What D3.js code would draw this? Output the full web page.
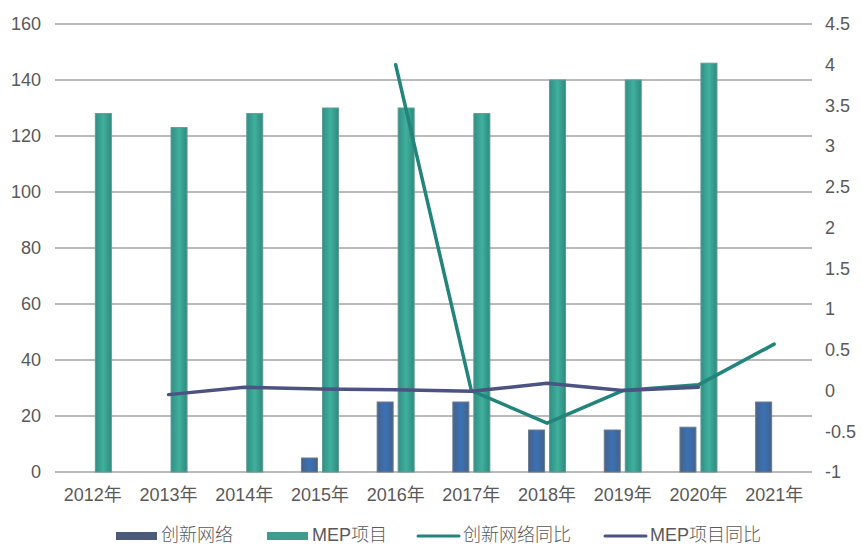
<!DOCTYPE html>
<html>
<head>
<meta charset="utf-8">
<script src="https://cdn.jsdelivr.net/npm/d3@7"></script>
<style>
  body { margin: 0; background: #fff; }
  text { font-family: "Liberation Sans", "Noto Sans CJK SC", sans-serif; fill: #595959; }
</style>
</head>
<body>
<svg id="chart" width="862" height="546"></svg>
<script>
var years = ["2012年", "2013年", "2014年", "2015年", "2016年", "2017年", "2018年", "2019年", "2020年", "2021年"];
var networkValues = [null, null, null, 5, 25, 25, 15, 15, 16, 25];
var mepValues = [128, 123, 128, 130, 130, 128, 140, 140, 146, null];
var networkGrowth = [null, null, null, null, 4, 0, -0.4, 0, 0.07, 0.57];
var mepGrowth = [null, -0.05, 0.04, 0.02, 0.01, -0.01, 0.09, 0, 0.04, null];
var leftTicks = [0, 20, 40, 60, 80, 100, 120, 140, 160];
var rightTicks = [-1, -0.5, 0, 0.5, 1, 1.5, 2, 2.5, 3, 3.5, 4, 4.5];

var svg, x, yLeft, yRight, plotLeft, plotRight, plotTop, plotBottom, barW, gap, center;
svg = d3.select("#chart");
plotLeft = 55; plotRight = 812; plotTop = 24; plotBottom = 472;
barW = 16; gap = 5;

x = d3.scaleBand().domain(years).range([plotLeft, plotRight]);
yLeft = d3.scaleLinear().domain([0, 160]).range([plotBottom, plotTop]);
yRight = d3.scaleLinear().domain([-1, 4.5]).range([plotBottom, plotTop]);
center = function(i) { return x(years[i]) + x.bandwidth() / 2; };

var defs = svg.append("defs");
var gBlue = defs.append("linearGradient").attr("id", "gBlue").attr("x1", 0).attr("x2", 1);
gBlue.append("stop").attr("offset", "0%").attr("stop-color", "#46628a");
gBlue.append("stop").attr("offset", "50%").attr("stop-color", "#3a72b5");
gBlue.append("stop").attr("offset", "100%").attr("stop-color", "#45628a");
var gTeal = defs.append("linearGradient").attr("id", "gTeal").attr("x1", 0).attr("x2", 1);
gTeal.append("stop").attr("offset", "0%").attr("stop-color", "#2f8f86");
gTeal.append("stop").attr("offset", "50%").attr("stop-color", "#40b09c");
gTeal.append("stop").attr("offset", "100%").attr("stop-color", "#2d8a80");

// grid lines on left ticks
svg.append("g").selectAll("line").data(leftTicks).join("line")
  .attr("x1", plotLeft).attr("x2", plotRight)
  .attr("y1", function(d) { return yLeft(d); })
  .attr("y2", function(d) { return yLeft(d); })
  .attr("stroke", "#777").attr("stroke-width", 1);

// left axis labels
svg.append("g").selectAll("text").data(leftTicks).join("text")
  .attr("x", 41).attr("y", function(d) { return yLeft(d); })
  .attr("dy", "0.35em").attr("text-anchor", "end")
  .attr("font-size", 18).text(function(d) { return d; });

// right axis labels
svg.append("g").selectAll("text").data(rightTicks).join("text")
  .attr("x", 825).attr("y", function(d) { return yRight(d); })
  .attr("dy", "0.35em").attr("text-anchor", "start")
  .attr("font-size", 18).text(function(d) { return d; });

// x labels
svg.append("g").selectAll("text").data(years).join("text")
  .attr("x", function(d) { return x(d) + x.bandwidth() / 2; })
  .attr("y", 495).attr("dy", "0.35em").attr("text-anchor", "middle")
  .attr("font-size", 18).text(function(d) { return d; });

// bars
var barsG = svg.append("g");
barsG.selectAll("rect.net").data(networkValues.map(function(v, i) { return { v: v, i: i }; })
    .filter(function(d) { return d.v != null; }))
  .join("rect").attr("class", "net")
  .attr("x", function(d) { return center(d.i) - gap / 2 - barW; })
  .attr("y", function(d) { return yLeft(d.v); })
  .attr("width", barW)
  .attr("height", function(d) { return yLeft(0) - yLeft(d.v); })
  .attr("fill", "url(#gBlue)").attr("stroke", "#6b7a90").attr("stroke-width", 1);
barsG.selectAll("rect.mep").data(mepValues.map(function(v, i) { return { v: v, i: i }; })
    .filter(function(d) { return d.v != null; }))
  .join("rect").attr("class", "mep")
  .attr("x", function(d) { return center(d.i) + gap / 2; })
  .attr("y", function(d) { return yLeft(d.v); })
  .attr("width", barW)
  .attr("height", function(d) { return yLeft(0) - yLeft(d.v); })
  .attr("fill", "url(#gTeal)").attr("stroke", "#5f9a93").attr("stroke-width", 1);

// lines
var lineGen = d3.line()
  .defined(function(d) { return d.v != null; })
  .x(function(d) { return center(d.i); })
  .y(function(d) { return yRight(d.v); });
var toPts = function(arr) { return arr.map(function(v, i) { return { v: v, i: i }; }); };

svg.append("path").datum(toPts(networkGrowth))
  .attr("d", lineGen).attr("fill", "none")
  .attr("stroke", "#23847c").attr("stroke-width", 3.5)
  .attr("stroke-linecap", "round").attr("stroke-linejoin", "round");
svg.append("path").datum(toPts(mepGrowth))
  .attr("d", lineGen).attr("fill", "none")
  .attr("stroke", "#4c5282").attr("stroke-width", 3.5)
  .attr("stroke-linecap", "round").attr("stroke-linejoin", "round");

// legend
var legend = [
  { name: "创新网络", type: "rect", color: "#4b5a78", x: 116 },
  { name: "MEP项目", type: "rect", color: "#3f9c8f", x: 267 },
  { name: "创新网络同比", type: "line", color: "#23847c", x: 418 },
  { name: "MEP项目同比", type: "line", color: "#4c5282", x: 605 }
];
var lg = svg.append("g");
legend.forEach(function(d) {
  if (d.type === "rect") {
    lg.append("rect").attr("x", d.x).attr("y", 532).attr("width", 41).attr("height", 8).attr("fill", d.color);
  } else {
    lg.append("line").attr("x1", d.x).attr("x2", d.x + 41).attr("y1", 536).attr("y2", 536)
      .attr("stroke", d.color).attr("stroke-width", 3).attr("stroke-linecap", "round");
  }
  lg.append("text").attr("x", d.x + 45).attr("y", 535).attr("dy", "0.35em")
    .attr("font-family", "'Noto Sans CJK SC', sans-serif")
    .attr("font-weight", 300)
    .attr("font-size", 18).text(d.name);
});
</script>
</body>
</html>
